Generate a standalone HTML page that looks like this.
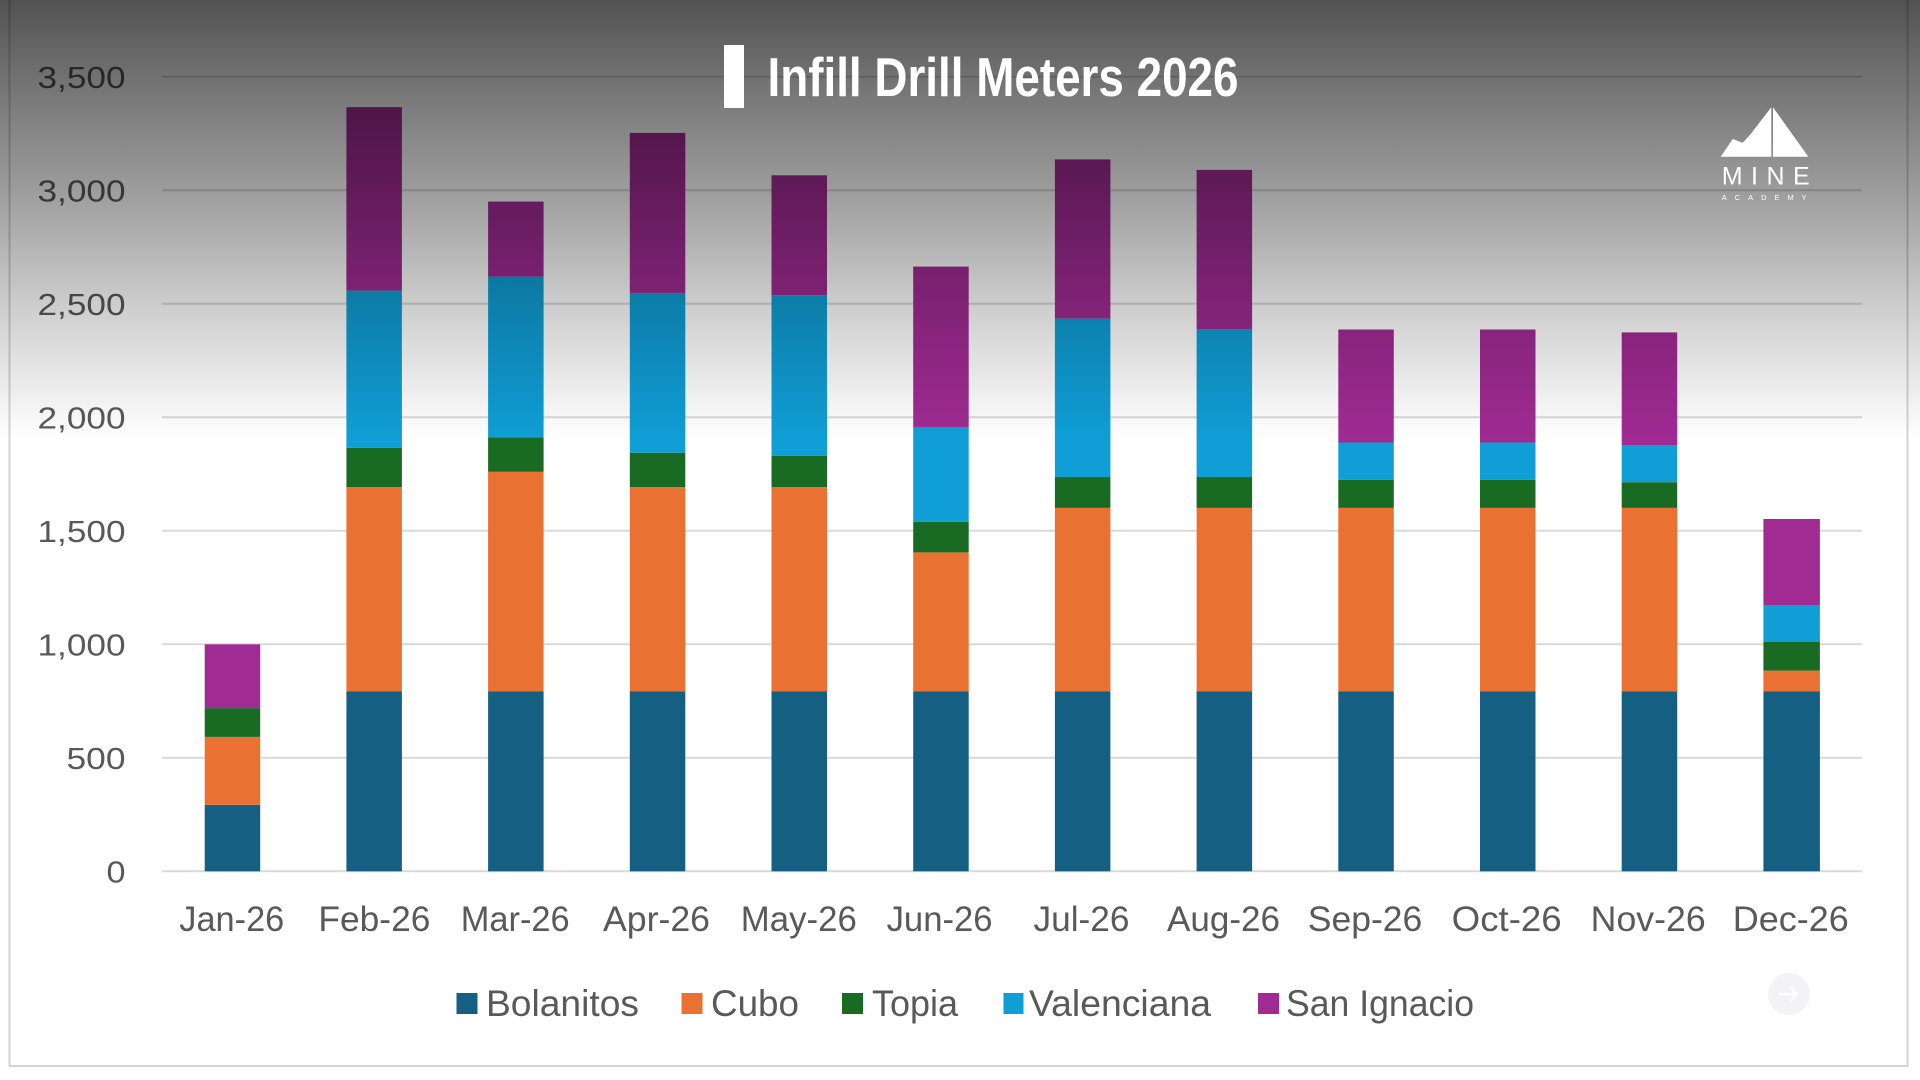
<!DOCTYPE html>
<html>
<head>
<meta charset="utf-8">
<style>
  html,body{margin:0;padding:0;background:#ffffff;}
  body{width:1920px;height:1080px;overflow:hidden;}
  svg{display:block;}
  .yl{font-family:"Liberation Sans",sans-serif;font-size:31px;fill:#595959;}
  .xl{font-family:"Liberation Sans",sans-serif;font-size:35px;fill:#595959;}
  .lg{font-family:"Liberation Sans",sans-serif;font-size:37px;fill:#595959;}
</style>
</head>
<body>
<svg width="1920" height="1080" viewBox="0 0 1920 1080" xmlns="http://www.w3.org/2000/svg">
  <defs>
    <linearGradient id="ov" x1="0" y1="0" x2="0" y2="1">
      <stop offset="0" stop-color="#000" stop-opacity="0.68"/>
      <stop offset="0.17" stop-color="#000" stop-opacity="0.56"/>
      <stop offset="0.43" stop-color="#000" stop-opacity="0.39"/>
      <stop offset="0.69" stop-color="#000" stop-opacity="0.20"/>
      <stop offset="0.95" stop-color="#000" stop-opacity="0.03"/>
      <stop offset="1" stop-color="#000" stop-opacity="0"/>
    </linearGradient>
  </defs>

  <rect x="0" y="0" width="1920" height="1080" fill="#ffffff"/>
  <!-- frame -->
  <rect x="9.5" y="-5" width="1898" height="1071" fill="none" stroke="#d4d4d4" stroke-width="2"/>

  <!-- gridlines -->
  <g stroke="#d9d9d9" stroke-width="2">
    <line x1="162" y1="76.8" x2="1862" y2="76.8"/>
    <line x1="162" y1="190.3" x2="1862" y2="190.3"/>
    <line x1="162" y1="303.8" x2="1862" y2="303.8"/>
    <line x1="162" y1="417.3" x2="1862" y2="417.3"/>
    <line x1="162" y1="530.8" x2="1862" y2="530.8"/>
    <line x1="162" y1="644.3" x2="1862" y2="644.3"/>
    <line x1="162" y1="757.8" x2="1862" y2="757.8"/>
    <line x1="162" y1="871.3" x2="1862" y2="871.3"/>
  </g>

  <!-- y labels -->
  <text class="yl" x="37.5" y="87.8" textLength="88" lengthAdjust="spacingAndGlyphs">3,500</text>
  <text class="yl" x="37.5" y="201.3" textLength="88" lengthAdjust="spacingAndGlyphs">3,000</text>
  <text class="yl" x="37.5" y="314.8" textLength="88" lengthAdjust="spacingAndGlyphs">2,500</text>
  <text class="yl" x="37.5" y="428.3" textLength="88" lengthAdjust="spacingAndGlyphs">2,000</text>
  <text class="yl" x="37.5" y="541.8" textLength="88" lengthAdjust="spacingAndGlyphs">1,500</text>
  <text class="yl" x="37.5" y="655.3" textLength="88" lengthAdjust="spacingAndGlyphs">1,000</text>
  <text class="yl" x="66.5" y="768.8" textLength="59" lengthAdjust="spacingAndGlyphs">500</text>
  <text class="yl" x="106.5" y="882.3" textLength="19" lengthAdjust="spacingAndGlyphs">0</text>

  <!-- bars -->
  <!-- Jan -->
  <g>
    <rect x="204.7" y="804.8" width="55.5" height="66.5" fill="#156082"/>
    <rect x="204.7" y="736.9" width="55.5" height="67.9" fill="#E97132"/>
    <rect x="204.7" y="708.1" width="55.5" height="28.8" fill="#196B24"/>
    <rect x="204.7" y="644.3" width="55.5" height="63.8" fill="#A02B93"/>
  </g>
  <!-- Feb -->
  <g>
    <rect x="346.4" y="691.5" width="55.5" height="179.8" fill="#156082"/>
    <rect x="346.4" y="487.0" width="55.5" height="204.5" fill="#E97132"/>
    <rect x="346.4" y="447.7" width="55.5" height="39.3" fill="#196B24"/>
    <rect x="346.4" y="290.6" width="55.5" height="157.1" fill="#0F9ED5"/>
    <rect x="346.4" y="107.2" width="55.5" height="183.4" fill="#A02B93"/>
  </g>
  <!-- Mar -->
  <g>
    <rect x="488.1" y="691.5" width="55.5" height="179.8" fill="#156082"/>
    <rect x="488.1" y="471.8" width="55.5" height="219.7" fill="#E97132"/>
    <rect x="488.1" y="437.3" width="55.5" height="34.5" fill="#196B24"/>
    <rect x="488.1" y="276.6" width="55.5" height="160.7" fill="#0F9ED5"/>
    <rect x="488.1" y="201.6" width="55.5" height="75.0" fill="#A02B93"/>
  </g>
  <!-- Apr -->
  <g>
    <rect x="629.8" y="691.5" width="55.5" height="179.8" fill="#156082"/>
    <rect x="629.8" y="487.0" width="55.5" height="204.5" fill="#E97132"/>
    <rect x="629.8" y="452.7" width="55.5" height="34.3" fill="#196B24"/>
    <rect x="629.8" y="292.9" width="55.5" height="159.8" fill="#0F9ED5"/>
    <rect x="629.8" y="132.9" width="55.5" height="160.0" fill="#A02B93"/>
  </g>
  <!-- May -->
  <g>
    <rect x="771.5" y="691.5" width="55.5" height="179.8" fill="#156082"/>
    <rect x="771.5" y="487.0" width="55.5" height="204.5" fill="#E97132"/>
    <rect x="771.5" y="455.7" width="55.5" height="31.3" fill="#196B24"/>
    <rect x="771.5" y="295.2" width="55.5" height="160.5" fill="#0F9ED5"/>
    <rect x="771.5" y="175.3" width="55.5" height="119.9" fill="#A02B93"/>
  </g>
  <!-- Jun -->
  <g>
    <rect x="913.2" y="691.5" width="55.5" height="179.8" fill="#156082"/>
    <rect x="913.2" y="552.4" width="55.5" height="139.1" fill="#E97132"/>
    <rect x="913.2" y="521.7" width="55.5" height="30.7" fill="#196B24"/>
    <rect x="913.2" y="427.0" width="55.5" height="94.7" fill="#0F9ED5"/>
    <rect x="913.2" y="266.6" width="55.5" height="160.4" fill="#A02B93"/>
  </g>
  <!-- Jul -->
  <g>
    <rect x="1054.9" y="691.5" width="55.5" height="179.8" fill="#156082"/>
    <rect x="1054.9" y="507.9" width="55.5" height="183.6" fill="#E97132"/>
    <rect x="1054.9" y="477.0" width="55.5" height="30.9" fill="#196B24"/>
    <rect x="1054.9" y="318.6" width="55.5" height="158.4" fill="#0F9ED5"/>
    <rect x="1054.9" y="159.4" width="55.5" height="159.2" fill="#A02B93"/>
  </g>
  <!-- Aug -->
  <g>
    <rect x="1196.6" y="691.5" width="55.5" height="179.8" fill="#156082"/>
    <rect x="1196.6" y="507.9" width="55.5" height="183.6" fill="#E97132"/>
    <rect x="1196.6" y="477.0" width="55.5" height="30.9" fill="#196B24"/>
    <rect x="1196.6" y="329.0" width="55.5" height="148.0" fill="#0F9ED5"/>
    <rect x="1196.6" y="169.9" width="55.5" height="159.1" fill="#A02B93"/>
  </g>
  <!-- Sep -->
  <g>
    <rect x="1338.3" y="691.5" width="55.5" height="179.8" fill="#156082"/>
    <rect x="1338.3" y="507.9" width="55.5" height="183.6" fill="#E97132"/>
    <rect x="1338.3" y="479.7" width="55.5" height="28.2" fill="#196B24"/>
    <rect x="1338.3" y="442.5" width="55.5" height="37.2" fill="#0F9ED5"/>
    <rect x="1338.3" y="329.5" width="55.5" height="113.0" fill="#A02B93"/>
  </g>
  <!-- Oct -->
  <g>
    <rect x="1480.0" y="691.5" width="55.5" height="179.8" fill="#156082"/>
    <rect x="1480.0" y="507.9" width="55.5" height="183.6" fill="#E97132"/>
    <rect x="1480.0" y="479.7" width="55.5" height="28.2" fill="#196B24"/>
    <rect x="1480.0" y="442.5" width="55.5" height="37.2" fill="#0F9ED5"/>
    <rect x="1480.0" y="329.5" width="55.5" height="113.0" fill="#A02B93"/>
  </g>
  <!-- Nov -->
  <g>
    <rect x="1621.7" y="691.5" width="55.5" height="179.8" fill="#156082"/>
    <rect x="1621.7" y="507.9" width="55.5" height="183.6" fill="#E97132"/>
    <rect x="1621.7" y="482.2" width="55.5" height="25.7" fill="#196B24"/>
    <rect x="1621.7" y="445.0" width="55.5" height="37.2" fill="#0F9ED5"/>
    <rect x="1621.7" y="332.4" width="55.5" height="112.6" fill="#A02B93"/>
  </g>
  <!-- Dec -->
  <g>
    <rect x="1763.4" y="691.5" width="56.5" height="179.8" fill="#156082"/>
    <rect x="1763.4" y="670.6" width="56.5" height="20.9" fill="#E97132"/>
    <rect x="1763.4" y="642.0" width="56.5" height="28.6" fill="#196B24"/>
    <rect x="1763.4" y="605.0" width="56.5" height="37.0" fill="#0F9ED5"/>
    <rect x="1763.4" y="519.0" width="56.5" height="86.0" fill="#A02B93"/>
  </g>

  <!-- x labels -->
  <text class="xl" x="179.3" y="931" textLength="105" lengthAdjust="spacingAndGlyphs">Jan-26</text>
  <text class="xl" x="318.4" y="931" textLength="112" lengthAdjust="spacingAndGlyphs">Feb-26</text>
  <text class="xl" x="460.7" y="931" textLength="109" lengthAdjust="spacingAndGlyphs">Mar-26</text>
  <text class="xl" x="603" y="931" textLength="107" lengthAdjust="spacingAndGlyphs">Apr-26</text>
  <text class="xl" x="740.8" y="931" textLength="116" lengthAdjust="spacingAndGlyphs">May-26</text>
  <text class="xl" x="886.6" y="931" textLength="106" lengthAdjust="spacingAndGlyphs">Jun-26</text>
  <text class="xl" x="1033.5" y="931" textLength="96" lengthAdjust="spacingAndGlyphs">Jul-26</text>
  <text class="xl" x="1167" y="931" textLength="113" lengthAdjust="spacingAndGlyphs">Aug-26</text>
  <text class="xl" x="1307.8" y="931" textLength="114.5" lengthAdjust="spacingAndGlyphs">Sep-26</text>
  <text class="xl" x="1451.7" y="931" textLength="110" lengthAdjust="spacingAndGlyphs">Oct-26</text>
  <text class="xl" x="1590.7" y="931" textLength="115" lengthAdjust="spacingAndGlyphs">Nov-26</text>
  <text class="xl" x="1732.8" y="931" textLength="116" lengthAdjust="spacingAndGlyphs">Dec-26</text>

  <!-- legend -->
  <rect x="456.5" y="993" width="21" height="21" fill="#156082"/>
  <text class="lg" x="486" y="1016" textLength="153" lengthAdjust="spacingAndGlyphs">Bolanitos</text>
  <rect x="681.5" y="993" width="21" height="21" fill="#E97132"/>
  <text class="lg" x="711" y="1016" textLength="88" lengthAdjust="spacingAndGlyphs">Cubo</text>
  <rect x="842" y="993" width="21" height="21" fill="#196B24"/>
  <text class="lg" x="872" y="1016" textLength="86" lengthAdjust="spacingAndGlyphs">Topia</text>
  <rect x="1003.5" y="993" width="20" height="21" fill="#0F9ED5"/>
  <text class="lg" x="1029" y="1016" textLength="182" lengthAdjust="spacingAndGlyphs">Valenciana</text>
  <rect x="1258" y="993" width="21" height="21" fill="#A02B93"/>
  <text class="lg" x="1286" y="1016" textLength="188" lengthAdjust="spacingAndGlyphs">San Ignacio</text>

  <!-- faint arrow button -->
  <circle cx="1789" cy="994" r="21" fill="#f3f3f5"/>
  <path d="M1779 994 H1797 M1790 987 L1797 994 L1790 1001" fill="none" stroke="#ffffff" stroke-width="2.5"/>

  <!-- dark top overlay -->
  <rect x="0" y="0" width="1920" height="440" fill="url(#ov)"/>

  <!-- title -->
  <rect x="724" y="45" width="20" height="63" fill="#ffffff"/>
  <text x="767.5" y="96" font-family="'Liberation Sans',sans-serif" font-weight="bold" font-size="55" fill="#ffffff" textLength="471" lengthAdjust="spacingAndGlyphs">Infill Drill Meters 2026</text>

  <!-- logo -->
  <polygon points="1720.7,156.7 1732.7,139 1742.7,142.7 1750.7,134 1771.3,107.3 1771.3,156.7" fill="#ffffff"/>
  <polygon points="1773,107.3 1808.3,156.7 1773,156.7" fill="#ffffff"/>
  <text x="1721.7" y="184.7" font-family="'Liberation Sans',sans-serif" font-size="25" fill="#ffffff" textLength="88" lengthAdjust="spacing">MINE</text>
  <text x="1721.7" y="200" font-family="'Liberation Sans',sans-serif" font-size="7.5" fill="#ffffff" textLength="85" lengthAdjust="spacing">ACADEMY</text>
</svg>
</body>
</html>
